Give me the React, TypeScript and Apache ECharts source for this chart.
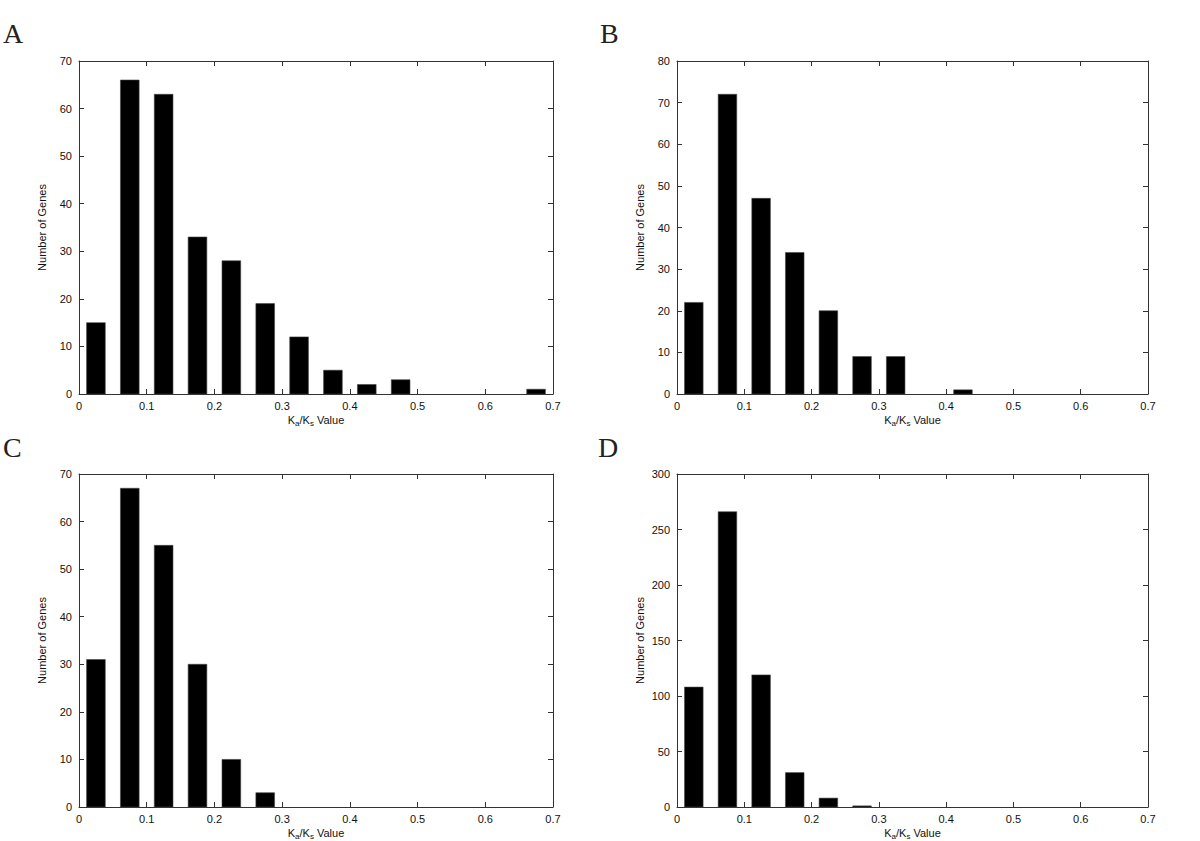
import React, { useEffect, useRef } from "react";
import * as echarts from "echarts";

const binCenters = [0.025, 0.075, 0.125, 0.175, 0.225, 0.275, 0.325, 0.375, 0.425, 0.475, 0.525, 0.575, 0.625, 0.675];
const xTicks = ["0", "0.1", "0.2", "0.3", "0.4", "0.5", "0.6", "0.7"];

const countsA = [15, 66, 63, 33, 28, 19, 12, 5, 2, 3, 0, 0, 0, 1];
const countsB = [22, 72, 47, 34, 20, 9, 9, 0, 1, 0, 0, 0, 0, 0];
const countsC = [31, 67, 55, 30, 10, 3, 0, 0, 0, 0, 0, 0, 0, 0];
const countsD = [108, 266, 119, 31, 8, 1, 0, 0, 0, 0, 0, 0, 0, 0];

const panelLetters = ["A", "B", "C", "D"];
const yMax = [70, 80, 70, 300];
const yStep = [10, 10, 10, 50];

const HALF = 0.0138;
const AXIS = "#333";
const SANS = "Liberation Sans, Arial, Helvetica, sans-serif";

const grids = [
  { left: 79, top: 61, width: 474, height: 333 },
  { left: 677, top: 61, width: 471, height: 333 },
  { left: 79, top: 474, width: 474, height: 333 },
  { left: 677, top: 474, width: 471, height: 333 },
];
const letterPos = [
  { x: 3, y: 33 },
  { x: 600, y: 33 },
  { x: 3, y: 447 },
  { x: 598, y: 447 },
];

export default function App() {
  const ref = useRef<HTMLDivElement>(null);
  useEffect(() => {
    if (!ref.current) return;
    const chart = echarts.init(ref.current, null, { renderer: "svg" });
    const allCounts = [countsA, countsB, countsC, countsD];
    const xAxes: any[] = [];
    const yAxes: any[] = [];
    const series: any[] = [];
    grids.forEach((g, i) => {
      const common = {
        gridIndex: i,
        type: "value",
        min: 0,
        max: 0.7,
        interval: 0.1,
        splitLine: { show: false },
        axisLine: { show: true, onZero: false, lineStyle: { color: AXIS, width: 1 } },
        axisTick: { show: true, inside: true, length: 5, lineStyle: { color: AXIS } },
      };
      xAxes.push({
        ...common,
        position: "bottom",
        name: "{k|K}{sub|a}{k|/K}{sub|s}{k| Value}",
        nameLocation: "middle",
        nameGap: 19,
        nameTextStyle: {
          rich: {
            k: { fontFamily: SANS, fontSize: 11, color: "#111" },
            sub: { fontFamily: SANS, fontSize: 8, color: "#111", padding: [6, 0, 0, 0] },
          },
        },
        axisLabel: {
          show: true,
          margin: 6,
          fontFamily: SANS,
          fontSize: 11,
          color: "#111",
          formatter: (v: number) => xTicks[Math.round(v * 10)] ?? "",
        },
      });
      xAxes.push({ ...common, position: "top", axisLabel: { show: false } });
      const ycommon = {
        gridIndex: i,
        type: "value",
        min: 0,
        max: yMax[i],
        interval: yStep[i],
        splitLine: { show: false },
        axisLine: { show: true, onZero: false, lineStyle: { color: AXIS, width: 1 } },
        axisTick: { show: true, inside: true, length: 5, lineStyle: { color: AXIS } },
      };
      yAxes.push({
        ...ycommon,
        position: "left",
        name: "Number of Genes",
        nameLocation: "middle",
        nameGap: 32,
        nameTextStyle: { fontFamily: SANS, fontSize: 11, color: "#111" },
        axisLabel: { show: true, margin: 7, fontFamily: SANS, fontSize: 11, color: "#111" },
      });
      yAxes.push({ ...ycommon, position: "right", axisLabel: { show: false } });
      const data = binCenters
        .map((c, k) => [c, allCounts[i][k]])
        .filter((d) => d[1] > 0);
      series.push({
        type: "custom",
        xAxisIndex: i * 2,
        yAxisIndex: i * 2,
        data,
        renderItem: (params: any, api: any) => {
          const x = api.value(0);
          const y = api.value(1);
          const p0 = api.coord([x - HALF, y]);
          const p1 = api.coord([x + HALF, 0]);
          return {
            type: "rect",
            shape: { x: p0[0], y: p0[1], width: p1[0] - p0[0], height: p1[1] - p0[1] },
            style: { fill: "#000", stroke: "#444", lineWidth: 0.6 },
          };
        },
      });
    });
    chart.setOption({
      animation: false,
      backgroundColor: "#fff",
      grid: grids.map((g) => ({ ...g, containLabel: false })),
      xAxis: xAxes,
      yAxis: yAxes,
      series,
      graphic: panelLetters.map((t, i) => ({
        type: "text",
        left: letterPos[i].x,
        top: letterPos[i].y - 14,
        style: {
          text: t,
          fontFamily: "Liberation Serif, DejaVu Serif, serif",
          fontSize: 28,
          fill: "#222",
        },
      })),
    });
    return () => chart.dispose();
  }, []);
  return (
    <div
      ref={ref}
      style={{ position: "fixed", left: 0, top: 0, width: 1200, height: 841, background: "#fff" }}
    />
  );
}
